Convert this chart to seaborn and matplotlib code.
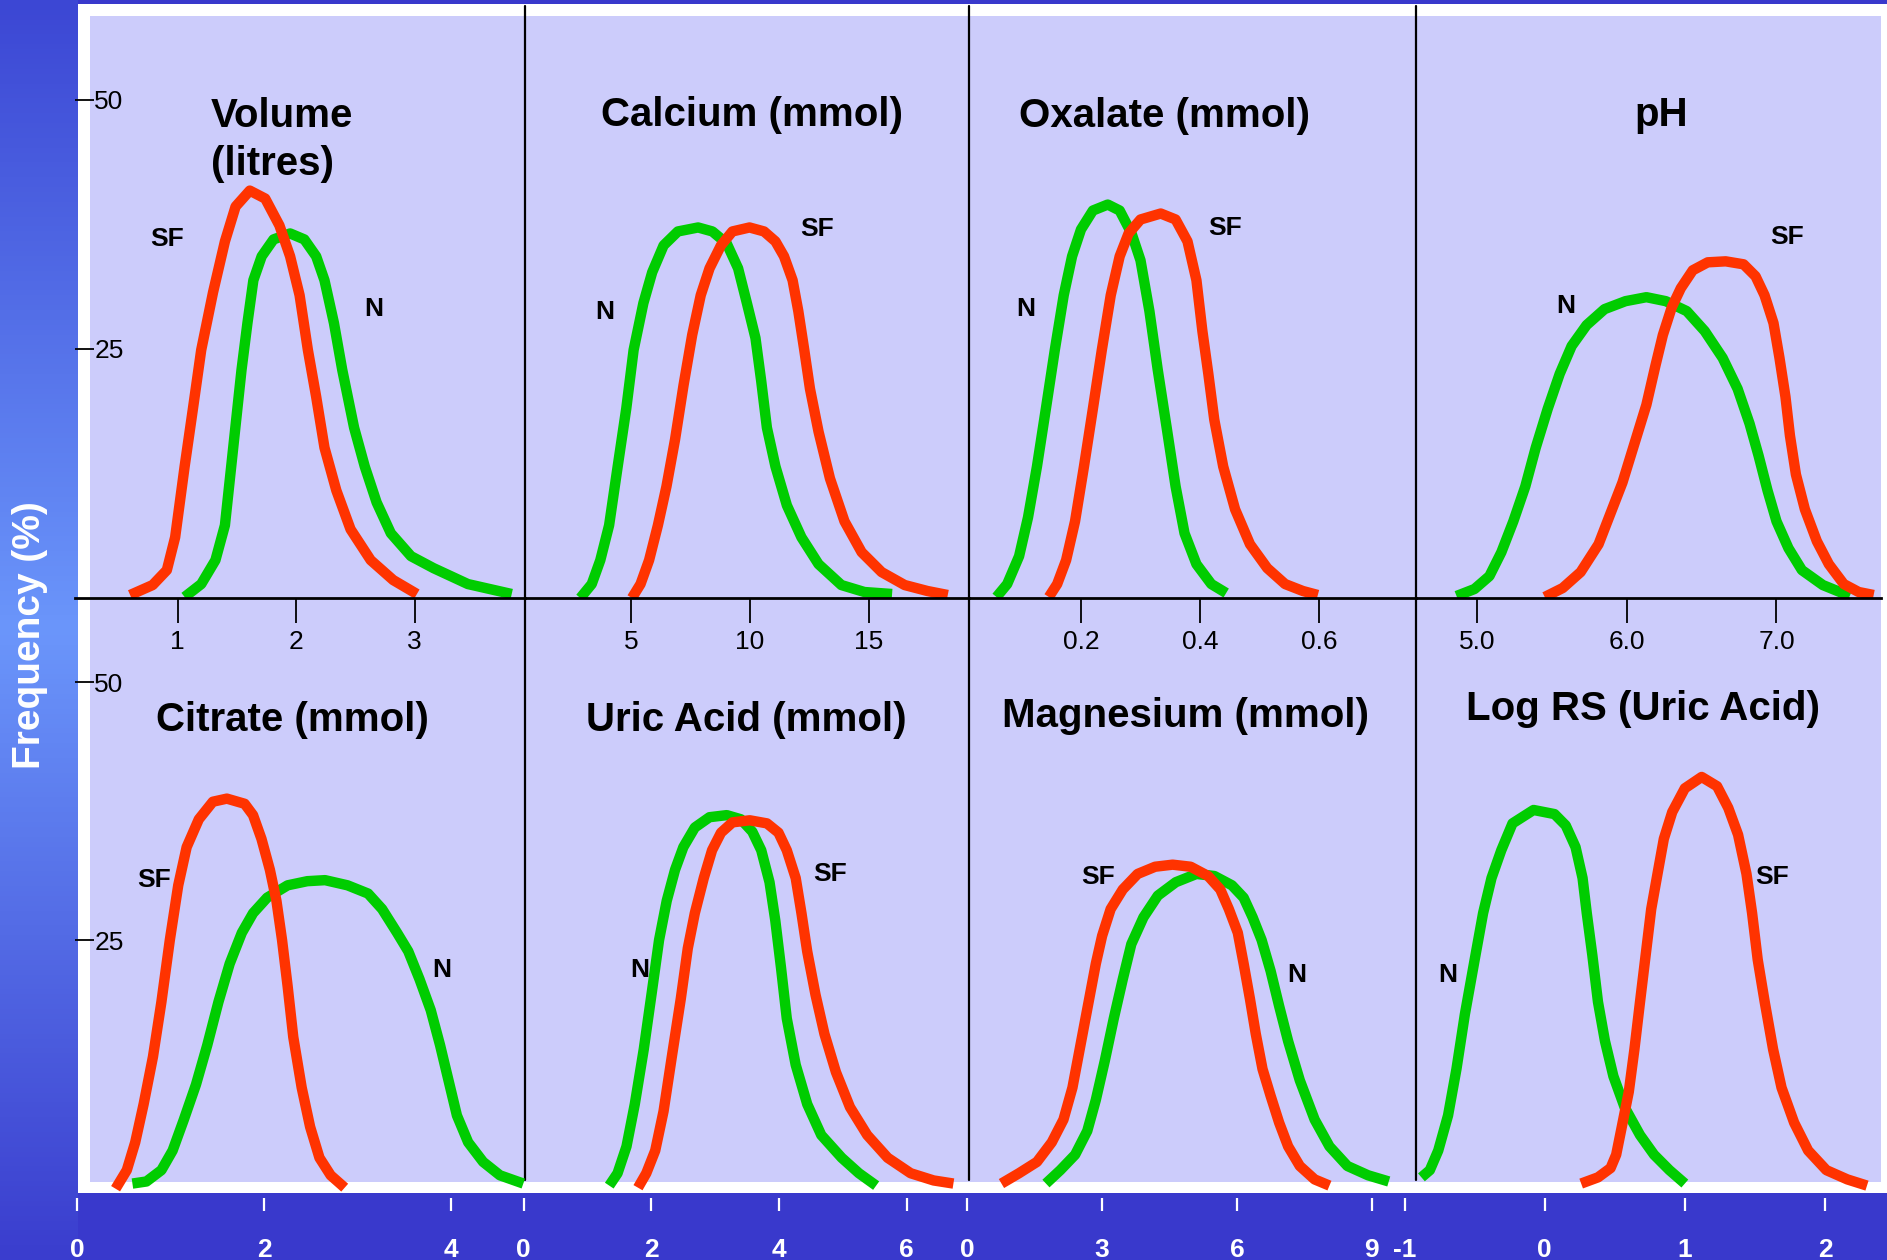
import numpy as np
import matplotlib
matplotlib.use('Agg')
import matplotlib.pyplot as plt
import seaborn as sns
from matplotlib.colors import LinearSegmentedColormap
from matplotlib.patches import Rectangle

# ---- data (frequency %, per panel) ----
volume_sf_x = [0.60, 0.79, 0.91, 0.98, 1.06, 1.13, 1.20, 1.30, 1.40, 1.49, 1.61, 1.74, 1.86, 1.95, 2.03, 2.10, 2.17, 2.24, 2.34, 2.46, 2.63, 2.82, 3.02]
volume_sf_y = [0.3, 1.3, 2.8, 6.1, 13.2, 19.0, 24.9, 30.7, 35.8, 39.3, 40.9, 40.1, 37.4, 34.3, 30.4, 24.9, 20.2, 15.1, 10.8, 6.9, 3.8, 1.8, 0.4]
volume_n_x = [1.06, 1.20, 1.32, 1.40, 1.47, 1.54, 1.59, 1.64, 1.71, 1.81, 1.95, 2.07, 2.17, 2.24, 2.32, 2.39, 2.49, 2.58, 2.68, 2.80, 2.97, 3.16, 3.45, 3.82]
volume_n_y = [0.1, 1.4, 3.8, 7.3, 15.1, 22.9, 27.6, 31.9, 34.3, 36.0, 36.6, 36.0, 34.3, 31.9, 27.6, 22.9, 17.1, 13.2, 9.6, 6.5, 4.2, 3.0, 1.4, 0.4]

calcium_n_x = [2.87, 3.35, 3.71, 4.08, 4.44, 4.80, 5.11, 5.52, 5.89, 6.37, 6.97, 7.82, 8.42, 9.02, 9.50, 9.87, 10.23, 10.47, 10.71, 11.07, 11.55, 12.16, 12.88, 13.84, 14.81, 15.97]
calcium_n_y = [0.0, 1.4, 3.8, 7.3, 13.2, 19.0, 24.9, 29.6, 32.7, 35.4, 36.8, 37.2, 36.8, 35.6, 33.1, 29.6, 26.1, 21.8, 17.1, 13.2, 9.3, 6.1, 3.4, 1.3, 0.6, 0.4]
calcium_sf_x = [5.04, 5.40, 5.76, 6.13, 6.49, 6.85, 7.21, 7.57, 7.93, 8.30, 8.78, 9.26, 9.98, 10.59, 11.07, 11.43, 11.79, 12.03, 12.28, 12.52, 12.88, 13.36, 13.97, 14.69, 15.53, 16.50, 17.46, 18.31]
calcium_sf_y = [0.0, 1.4, 3.8, 7.3, 11.2, 15.9, 21.4, 26.4, 30.4, 33.1, 35.4, 36.8, 37.2, 36.8, 35.8, 34.3, 31.9, 28.8, 24.9, 21.0, 16.7, 12.0, 7.7, 4.6, 2.6, 1.3, 0.7, 0.3]

oxalate_n_x = [0.058, 0.076, 0.096, 0.111, 0.126, 0.141, 0.156, 0.171, 0.185, 0.200, 0.220, 0.245, 0.265, 0.285, 0.300, 0.315, 0.329, 0.344, 0.359, 0.374, 0.394, 0.419, 0.444]
oxalate_n_y = [0.1, 1.4, 4.2, 8.1, 13.2, 19.0, 24.9, 30.4, 34.3, 37.0, 38.9, 39.5, 38.9, 36.6, 33.9, 28.8, 22.9, 17.1, 11.2, 6.5, 3.4, 1.4, 0.5]
oxalate_sf_x = [0.146, 0.160, 0.175, 0.190, 0.205, 0.220, 0.235, 0.250, 0.265, 0.280, 0.300, 0.334, 0.359, 0.379, 0.394, 0.404, 0.414, 0.424, 0.439, 0.459, 0.484, 0.513, 0.543, 0.573, 0.598]
oxalate_sf_y = [0.1, 1.4, 3.8, 7.7, 13.2, 19.0, 24.9, 30.4, 34.3, 36.6, 38.0, 38.6, 38.0, 35.8, 31.9, 26.8, 22.5, 17.9, 13.2, 8.9, 5.4, 3.0, 1.4, 0.7, 0.3]

ph_n_x = [4.86, 4.98, 5.08, 5.16, 5.24, 5.32, 5.39, 5.47, 5.55, 5.63, 5.73, 5.85, 5.99, 6.13, 6.26, 6.40, 6.52, 6.64, 6.74, 6.82, 6.88, 6.94, 7.00, 7.08, 7.17, 7.31, 7.49]
ph_n_y = [0.2, 0.9, 2.2, 4.6, 7.7, 11.2, 15.1, 19.0, 22.5, 25.3, 27.4, 29.0, 29.8, 30.2, 29.8, 28.8, 26.8, 24.1, 21.0, 17.5, 14.3, 10.8, 7.7, 5.0, 2.8, 1.3, 0.2]
ph_sf_x = [5.45, 5.57, 5.69, 5.81, 5.89, 5.97, 6.05, 6.13, 6.19, 6.24, 6.30, 6.36, 6.44, 6.54, 6.66, 6.78, 6.86, 6.92, 6.98, 7.02, 7.06, 7.09, 7.13, 7.19, 7.27, 7.35, 7.45, 7.55, 7.65]
ph_sf_y = [0.1, 1.0, 2.6, 5.4, 8.5, 11.6, 15.5, 19.4, 23.3, 26.4, 29.2, 31.1, 32.9, 33.7, 33.8, 33.5, 32.3, 30.4, 27.6, 24.1, 20.2, 16.3, 12.4, 8.9, 5.7, 3.4, 1.4, 0.6, 0.3]

citrate_sf_x = [0.41, 0.53, 0.62, 0.71, 0.81, 0.90, 0.99, 1.08, 1.17, 1.30, 1.45, 1.60, 1.79, 1.88, 1.97, 2.06, 2.13, 2.19, 2.25, 2.31, 2.40, 2.49, 2.59, 2.71, 2.86]
citrate_sf_y = [0.9, 2.7, 5.4, 9.1, 13.7, 19.0, 25.0, 30.3, 34.0, 36.7, 38.4, 38.7, 38.2, 37.1, 34.8, 31.8, 28.8, 25.0, 20.5, 15.6, 10.7, 6.9, 3.9, 2.2, 1.0]
citrate_n_x = [0.59, 0.74, 0.90, 1.02, 1.14, 1.27, 1.39, 1.51, 1.63, 1.76, 1.88, 2.03, 2.25, 2.46, 2.65, 2.89, 3.11, 3.26, 3.42, 3.54, 3.66, 3.78, 3.88, 3.97, 4.06, 4.18, 4.34, 4.52, 4.77]
citrate_n_y = [1.4, 1.6, 2.7, 4.6, 7.6, 11.0, 14.8, 19.0, 22.7, 25.7, 27.6, 29.1, 30.3, 30.7, 30.8, 30.3, 29.5, 28.0, 25.7, 23.9, 21.2, 18.2, 14.8, 11.4, 8.0, 5.4, 3.5, 2.2, 1.4]

uric_n_x = [1.34, 1.47, 1.61, 1.74, 1.88, 2.01, 2.12, 2.24, 2.37, 2.50, 2.68, 2.91, 3.18, 3.40, 3.58, 3.72, 3.85, 3.94, 4.03, 4.12, 4.26, 4.44, 4.66, 4.98, 5.25, 5.52]
uric_n_y = [1.2, 2.4, 5.0, 9.1, 14.4, 20.1, 25.0, 28.8, 31.8, 34.0, 35.9, 36.9, 37.1, 36.7, 35.5, 33.7, 30.6, 26.9, 22.3, 17.4, 12.9, 9.1, 6.1, 3.9, 2.4, 1.2]
uric_sf_x = [1.79, 1.92, 2.06, 2.19, 2.32, 2.46, 2.57, 2.68, 2.82, 2.95, 3.09, 3.27, 3.54, 3.81, 3.99, 4.12, 4.26, 4.35, 4.44, 4.57, 4.71, 4.89, 5.11, 5.38, 5.70, 6.06, 6.42, 6.73]
uric_sf_y = [1.0, 2.4, 4.6, 8.4, 13.7, 19.3, 24.2, 27.6, 31.0, 33.7, 35.4, 36.4, 36.6, 36.3, 35.4, 33.7, 31.0, 27.6, 23.9, 19.7, 15.9, 12.2, 8.8, 6.1, 3.9, 2.4, 1.7, 1.4]

magnesium_sf_x = [0.76, 1.15, 1.55, 1.88, 2.14, 2.34, 2.47, 2.60, 2.73, 2.86, 3.00, 3.19, 3.46, 3.79, 4.18, 4.57, 4.97, 5.36, 5.63, 5.82, 6.02, 6.15, 6.29, 6.42, 6.57, 6.75, 6.94, 7.14, 7.40, 7.73, 8.06]
magnesium_sf_y = [1.4, 2.4, 3.5, 5.4, 7.6, 10.7, 13.7, 16.7, 19.7, 22.7, 25.4, 28.0, 29.9, 31.4, 32.1, 32.3, 32.1, 31.2, 29.9, 28.0, 25.7, 22.7, 19.3, 15.9, 12.5, 9.9, 7.3, 5.0, 3.1, 1.8, 1.2]
magnesium_n_x = [1.75, 2.07, 2.40, 2.67, 2.86, 3.06, 3.26, 3.46, 3.65, 3.92, 4.24, 4.64, 5.10, 5.50, 5.89, 6.15, 6.35, 6.55, 6.75, 6.94, 7.14, 7.40, 7.73, 8.06, 8.46, 8.92, 9.38]
magnesium_n_y = [1.4, 2.7, 4.2, 6.5, 9.5, 13.3, 17.4, 21.2, 24.6, 27.2, 29.3, 30.6, 31.4, 31.2, 30.3, 29.1, 27.2, 25.0, 22.0, 18.6, 15.2, 11.4, 7.6, 5.0, 3.1, 2.2, 1.6]

logrs_n_x = [-0.88, -0.82, -0.76, -0.69, -0.63, -0.57, -0.50, -0.44, -0.38, -0.31, -0.23, -0.08, 0.07, 0.15, 0.22, 0.27, 0.30, 0.34, 0.38, 0.43, 0.49, 0.57, 0.68, 0.78, 0.89, 1.00]
logrs_n_y = [2.0, 2.7, 4.6, 8.0, 12.5, 17.8, 23.1, 27.6, 31.0, 33.7, 36.3, 37.6, 37.2, 36.1, 34.0, 31.0, 27.6, 23.5, 19.0, 15.2, 11.8, 8.8, 6.1, 4.2, 2.7, 1.4]
logrs_sf_x = [0.26, 0.38, 0.47, 0.51, 0.55, 0.60, 0.64, 0.68, 0.72, 0.76, 0.81, 0.85, 0.91, 1.00, 1.12, 1.23, 1.31, 1.38, 1.44, 1.48, 1.52, 1.57, 1.63, 1.69, 1.78, 1.88, 2.01, 2.16, 2.30]
logrs_sf_y = [1.4, 2.0, 2.9, 4.2, 6.9, 10.3, 14.4, 19.0, 23.5, 28.0, 31.8, 34.8, 37.4, 39.7, 40.8, 39.9, 37.8, 35.2, 31.4, 27.6, 23.1, 19.0, 14.4, 10.7, 7.3, 4.6, 2.7, 1.8, 1.2]

titles = ['Volume\n(litres)', 'Calcium (mmol)', 'Oxalate (mmol)', 'pH',
          'Citrate (mmol)', 'Uric Acid (mmol)', 'Magnesium (mmol)', 'Log RS (Uric Acid)']
top_ticks = [[1, 2, 3], [5, 10, 15], [0.2, 0.4, 0.6], [5, 6, 7]]
top_ticklabels = [['1', '2', '3'], ['5', '10', '15'], ['0.2', '0.4', '0.6'], ['5.0', '6.0', '7.0']]
bottom_ticks = [[0, 2, 4], [0, 2, 4, 6], [0, 3, 6, 9], [-1, 0, 1, 2]]
freq_ticks = [25, 50]

RED = '#ff3300'
GREEN = '#00cc00'
W, H = 1887, 1260

sns.set_theme(style='white')
plt.rcParams['font.family'] = ['Liberation Sans', 'DejaVu Sans']

fig = plt.figure(figsize=(W / 100, H / 100), dpi=100)
fig.patch.set_facecolor('#3939cc')

# slide background: gradient band, white frame, lavender panel, dividers
bg = fig.add_axes([0, 0, 1, 1], zorder=-1)
band = LinearSegmentedColormap.from_list('band', ['#3c47d4', '#6b96fb', '#3a3dce'])
bg.imshow(np.linspace(0, 1, 256).reshape(-1, 1), cmap=band, extent=(0, 78, H, 0), aspect='auto')
bg.add_patch(Rectangle((78, 4), W - 78, 1189, color='white', lw=0))
bg.add_patch(Rectangle((90, 16), 1791, 1166, color='#ccccfb', lw=0))
for xd in (525, 969, 1416):
    bg.plot([xd, xd], [6, 1180], color='black', lw=1.6)
bg.set_xlim(0, W)
bg.set_ylim(H, 0)
bg.axis('off')


def rect(l, r, t, b):
    return [l / W, 1 - b / H, (r - l) / W, (b - t) / H]


# (n_x, n_y, sf_x, sf_y, xlim, axes px, N label, SF label, title pos)
top_panels = [
    (volume_n_x, volume_n_y, volume_sf_x, volume_sf_y, (0.135, 3.932), (75, 525), (2.66, 29.0), (0.91, 36.0), (1.28, 46.0)),
    (calcium_n_x, calcium_n_y, calcium_sf_x, calcium_sf_y, (0.546, 19.202), (525, 969), (3.91, 28.7), (12.82, 37.0), (10.08, 48.5)),
    (oxalate_n_x, oxalate_n_y, oxalate_sf_x, oxalate_sf_y, (0.0118, 0.763), (969, 1416), (0.108, 29.0), (0.442, 37.1), (0.341, 48.4)),
    (ph_n_x, ph_n_y, ph_sf_x, ph_sf_y, (4.589, 7.699), (1416, 1881), (5.59, 29.3), (7.07, 36.2), (6.227, 48.5)),
]
bottom_panels = [
    (citrate_n_x, citrate_n_y, citrate_sf_x, citrate_sf_y, (-0.024, 4.788), (75, 525), (3.90, 22.1), (0.82, 30.8), (2.30, 46.35)),
    (uric_n_x, uric_n_y, uric_sf_x, uric_sf_y, (-0.058, 6.974), (520, 969), (1.81, 22.1), (4.80, 31.4), (3.48, 46.35)),
    (magnesium_n_x, magnesium_n_y, magnesium_sf_x, magnesium_sf_y, (-0.096, 9.986), (963, 1416), (7.34, 21.6), (2.90, 31.1), (4.85, 46.75)),
    (logrs_n_x, logrs_n_y, logrs_sf_x, logrs_sf_y, (-1.033, 2.400), (1400, 1881), (-0.69, 21.6), (1.62, 31.1), (0.70, 47.35)),
]

for row, panels in enumerate([top_panels, bottom_panels]):
    for col, (nx, ny, sx, sy, xlim, (l, r), npos, sfpos, tpos) in enumerate(panels):
        if row == 0:
            ax = fig.add_axes(rect(l, r, 16, 598))
            ax.set_ylim(0, 58.43)
        else:
            ax = fig.add_axes(rect(l, r, 598, 1198))
            ax.set_ylim(0, 58.14)
        ax.set_facecolor('none')
        sns.lineplot(x=nx, y=ny, ax=ax, color=GREEN, linewidth=7.5, sort=False,
                     estimator=None, solid_capstyle='butt', solid_joinstyle='round')
        sns.lineplot(x=sx, y=sy, ax=ax, color=RED, linewidth=7.5, sort=False,
                     estimator=None, solid_capstyle='butt', solid_joinstyle='round')
        ax.set_xlim(*xlim)
        ax.set_xlabel('')
        ax.set_ylabel('')
        ax.grid(False)
        for s in ax.spines.values():
            s.set_visible(False)

        ax.text(*npos, 'N', fontsize=19, fontweight='bold', ha='center', va='center', color='black')
        ax.text(*sfpos, 'SF', fontsize=19, fontweight='bold', ha='center', va='center', color='black')
        title = titles[row * 4 + col]
        ax.text(*tpos, title, fontsize=29, fontweight='bold', color='black',
                ha='left' if '\n' in title else 'center', va='center', linespacing=1.32)

        if row == 0:
            ax.spines['bottom'].set_visible(True)
            ax.spines['bottom'].set_color('black')
            ax.spines['bottom'].set_linewidth(2)
            ax.set_xticks(top_ticks[col])
            ax.set_xticklabels(top_ticklabels[col])
            ax.tick_params(axis='x', bottom=True, direction='out', length=18, width=1.3,
                           pad=5, labelsize=19, colors='black')
        else:
            ax.set_xticks(bottom_ticks[col])
            ax.set_xticklabels([str(t) for t in bottom_ticks[col]])
            ax.tick_params(axis='x', bottom=True, direction='out', length=9, width=1.6,
                           pad=20, labelsize=19, colors='white')
            for lab in ax.get_xticklabels():
                lab.set_fontweight('bold')

        if col == 0:
            ax.set_yticks(freq_ticks)
            ax.set_yticklabels([str(t) for t in freq_ticks])
            ax.tick_params(axis='y', left=True, direction='in', length=13.7, width=1.3,
                           pad=-35, labelsize=19, colors='black')
        else:
            ax.set_yticks([])

fig.text(30 / W, 1 - 635 / H, 'Frequency (%)', rotation=90, color='white', fontsize=28,
         fontweight='bold', ha='center', va='center')

fig.savefig('out.png', dpi=100, facecolor=fig.get_facecolor())
